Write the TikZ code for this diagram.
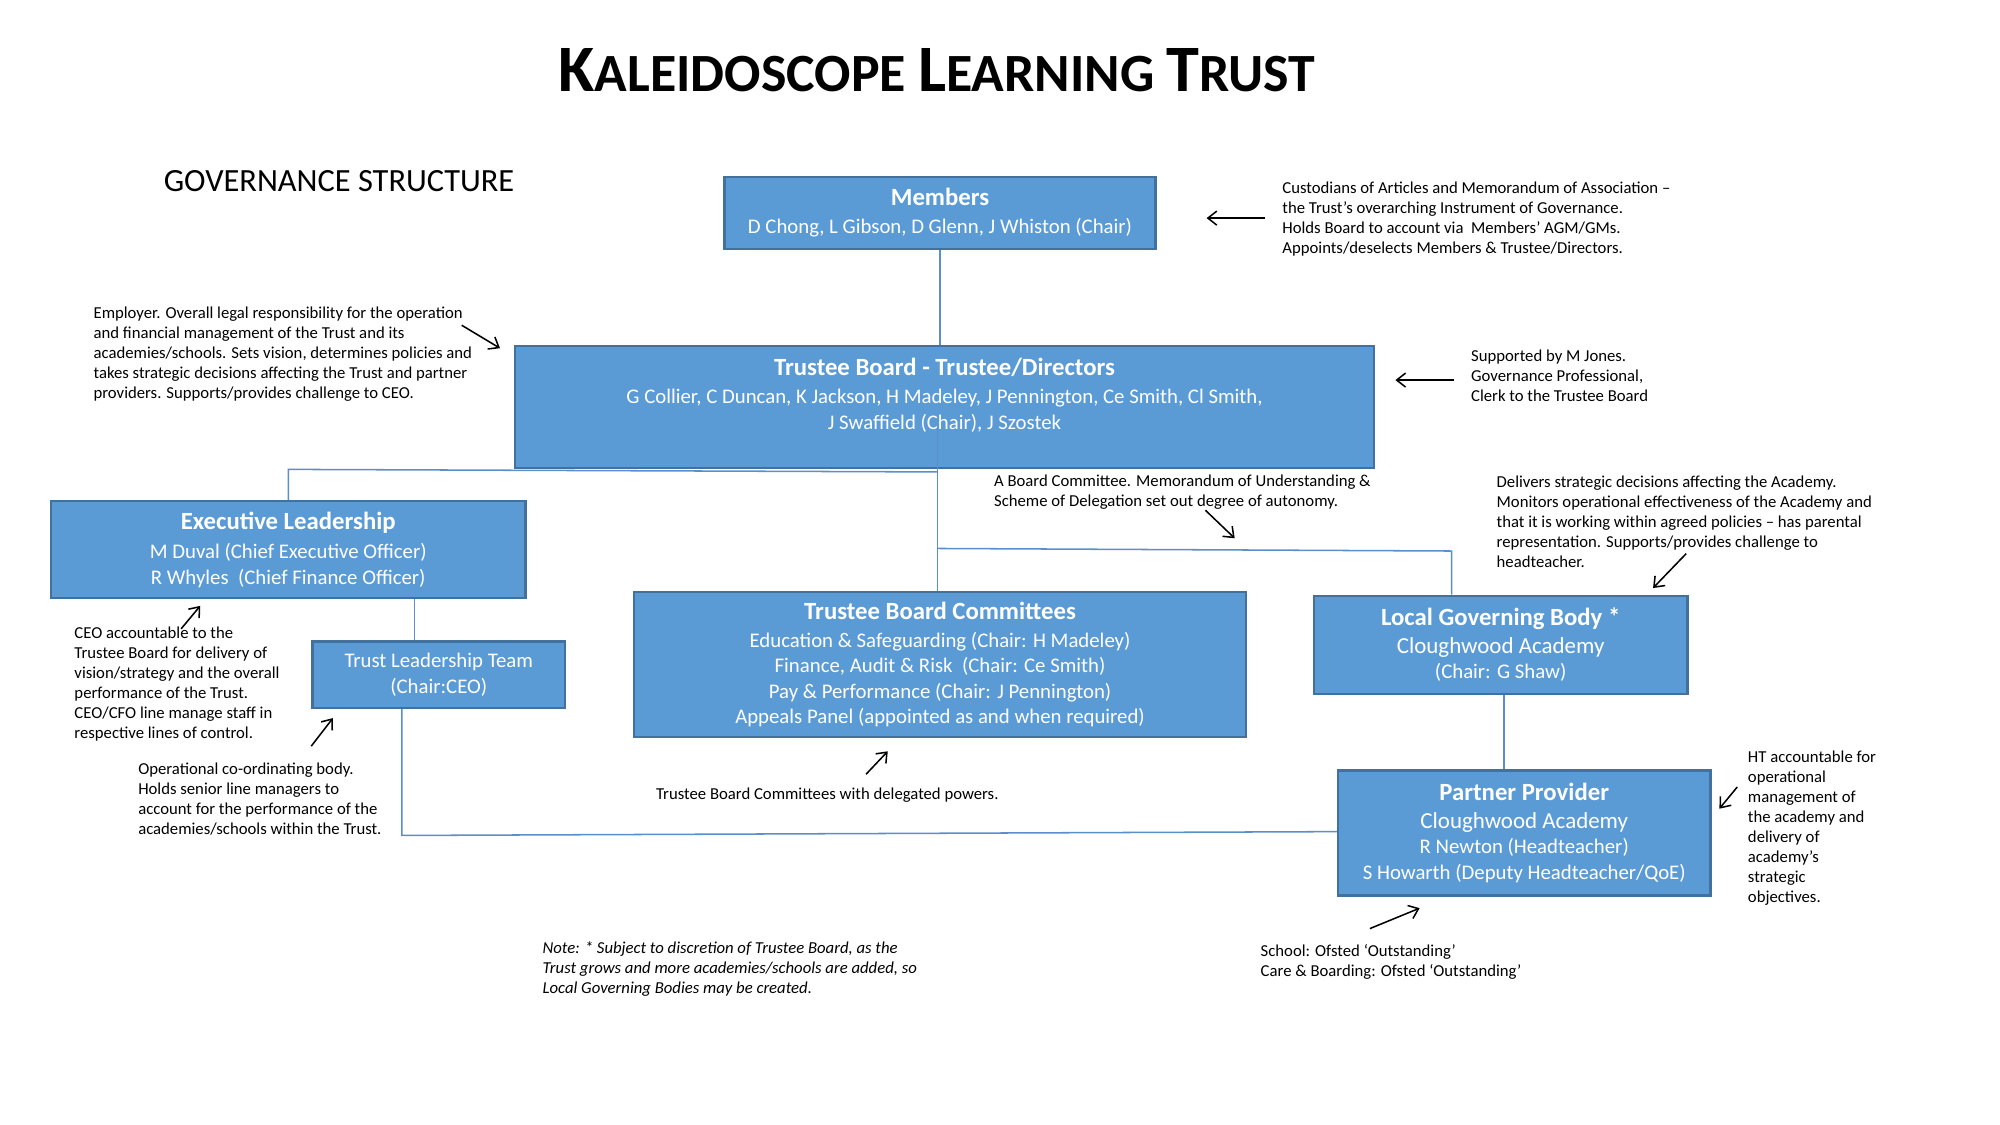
\documentclass[tikz,border=0pt]{standalone}
\usepackage{fontspec}
\setmainfont{Carlito}
\usetikzlibrary{arrows.meta}
\definecolor{boxfill}{HTML}{5B9BD5}
\definecolor{boxdraw}{HTML}{41719C}
\definecolor{conn}{HTML}{5B8FCB}
\tikzset{
 orgbox/.style={draw=boxdraw, line width=0.9pt, fill=boxfill, text=white, align=center, inner sep=0pt, font=\fontsize{8.15}{10}\selectfont},
 link/.style={draw=conn, line width=0.6pt},
 note/.style={anchor=north west, inner sep=0pt, align=left, font=\fontsize{6.55}{7.85}\selectfont},
 pointer/.style={draw=black, line width=0.6pt, -{Straight Barb[length=3.5pt,width=5.5pt]}},
}
\newcommand{\bt}[1]{{\fontsize{9.7}{11}\selectfont\bfseries #1}}
\newcommand{\ca}[1]{{\fontsize{9}{11}\selectfont #1}}
\newcommand{\tbg}{\fontsize{26}{30}\selectfont}
\newcommand{\tsm}{\fontsize{21.1}{26}\selectfont}
\begin{document}
\begin{tikzpicture}[x=0.5pt,y=-0.5pt]
\useasboundingbox (0,0) rectangle (1568,882);
% titles
\node[anchor=base, inner sep=0pt, font=\bfseries] (title) at (734.5,72) {\tbg K\tsm ALEIDOSCOPE \tbg L\tsm EARNING \tbg T\tsm RUST};
\node[anchor=base west, inner sep=0pt, font=\fontsize{12.7}{16}\selectfont] (gov) at (128,150) {GOVERNANCE STRUCTURE};
% boxes
\node[orgbox, minimum width=169pt, minimum height=28pt] (members) at (737,167) {\bt{Members}\\[1pt] D Chong, L Gibson, D Glenn, J Whiston (Chair)};
\node[orgbox, minimum width=336.5pt, minimum height=48pt] (tb) at (740.5,319) {};
\node[text=white, align=center, inner sep=0pt, font=\fontsize{8.15}{10}\selectfont] (tbtext) at (740.5,310) {\bt{Trustee Board - Trustee/Directors}\\[1pt] G Collier, C Duncan, K Jackson, H Madeley, J Pennington, Ce Smith, Cl Smith,\\ J Swaffield (Chair), J Szostek};
\node[orgbox, minimum width=186pt, minimum height=38pt] (exec) at (226,431) {\bt{Executive Leadership}\\[1.5pt] M Duval (Chief Executive Officer)\\ R Whyles\ \ (Chief Finance Officer)};
\node[orgbox, minimum width=99pt, minimum height=26pt] (tlt) at (344,529) {Trust Leadership Team\\ (Chair:CEO)};
\node[orgbox, minimum width=240pt, minimum height=57pt] (comm) at (737,521) {\bt{Trustee Board Committees}\\[1pt] Education \& Safeguarding (Chair: H Madeley)\\ Finance, Audit \& Risk\ \ (Chair: Ce Smith)\\ Pay \& Performance (Chair: J Pennington)\\ Appeals Panel (appointed as and when required)};
\node[orgbox, minimum width=146.5pt, minimum height=38.5pt] (lgb) at (1176.5,505.5) {\bt{Local Governing Body *}\\[1pt] \ca{Cloughwood Academy}\\ (Chair: G Shaw)};
\node[orgbox, minimum width=146pt, minimum height=49pt] (pp) at (1195,653) {\bt{Partner Provider}\\[1pt] \ca{Cloughwood Academy}\\ R Newton (Headteacher)\\ S Howarth (Deputy Headteacher/QoE)};
% connectors
\coordinate (tbin) at (735,335);
\coordinate (j1) at (735,370);
\coordinate (j2) at (226,368);
\coordinate (j3) at (735,430);
\coordinate (j4) at (1138,432);
\coordinate (j5) at (315,655);
\coordinate (tlttop) at ([xshift=-9.5pt]tlt.north);
\coordinate (tltbot) at ([xshift=-14.5pt]tlt.south);
\coordinate (pptop) at ([xshift=-8pt]pp.north);
\draw[link] (members.south) -- (members.south |- tb.north);
\draw[link] (tbin) -- (tbin |- comm.north);
\draw[link] (j1) -- (j2) -- (j2 |- exec.north);
\draw[link] (j3) -- (j4) -- (j4 |- lgb.north);
\draw[link] (tlttop |- exec.south) -- (tlttop);
\draw[link] (tltbot) -- (j5) -- ([yshift=0.5pt]pp.west);
\draw[link] (pptop |- lgb.south) -- (pptop);
% notes
\node[note] (nmem) at (1005,142) {Custodians of Articles and Memorandum of Association –\\ the Trust’s overarching Instrument of Governance.\\ Holds Board to account via\ \ Members’ AGM/GMs.\\ Appoints/deselects Members \& Trustee/Directors.};
\node[note] (ntbl) at (73,240) {Employer. Overall legal responsibility for the operation\\ and financial management of the Trust and its\\ academies/schools. Sets vision, determines policies and\\ takes strategic decisions affecting the Trust and partner\\ providers. Supports/provides challenge to CEO.};
\node[note] (ntbr) at (1153,274) {Supported by M Jones.\\ Governance Professional,\\ Clerk to the Trustee Board};
\node[note] (nbc) at (779,372) {A Board Committee. Memorandum of Understanding \&\\ Scheme of Delegation set out degree of autonomy.};
\node[note] (nlgb) at (1173,373) {Delivers strategic decisions affecting the Academy.\\ Monitors operational effectiveness of the Academy and\\ that it is working within agreed policies – has parental\\ representation. Supports/provides challenge to\\ headteacher.};
\node[note] (nexec) at (58,491) {CEO accountable to the\\ Trustee Board for delivery of\\ vision/strategy and the overall\\ performance of the Trust.\\ CEO/CFO line manage staff in\\ respective lines of control.};
\node[note] (ntlt) at (108,598) {Operational co-ordinating body.\\ Holds senior line managers to\\ account for the performance of the\\ academies/schools within the Trust.};
\node[note] (ncomm) at (514,617) {Trustee Board Committees with delegated powers.};
\node[note] (nht) at (1370,588) {HT accountable for\\ operational\\ management of\\ the academy and\\ delivery of\\ academy’s\\ strategic\\ objectives.};
\node[note] (npp) at (988,740) {School: Ofsted ‘Outstanding’\\ Care \& Boarding: Ofsted ‘Outstanding’};
\node[note, font=\fontsize{6.55}{7.85}\selectfont\itshape] (nnote) at (425,738) {Note: * Subject to discretion of Trustee Board, as the\\ Trust grows and more academies/schools are added, so\\ Local Governing Bodies may be created.};
% pointers
\coordinate (a1s) at (992,171); \coordinate (a1e) at (946,171);
\coordinate (a2s) at (362,255); \coordinate (a2e) at (392,273);
\coordinate (a3s) at (1140,298); \coordinate (a3e) at (1094,298);
\coordinate (a4s) at (945,400); \coordinate (a4e) at (968,422);
\coordinate (a5s) at (1322,434); \coordinate (a5e) at (1296,461);
\coordinate (a6s) at (142,493); \coordinate (a6e) at (157,475);
\coordinate (a7s) at (244,585); \coordinate (a7e) at (261,563);
\coordinate (a8s) at (679,607); \coordinate (a8e) at (696,589);
\coordinate (a9s) at (1362,617); \coordinate (a9e) at (1348,634);
\coordinate (a10s) at (1074,728); \coordinate (a10e) at (1113,712);
\foreach \i in {1,...,10} \draw[pointer] (a\i s) -- (a\i e);
\end{tikzpicture}
\end{document}
